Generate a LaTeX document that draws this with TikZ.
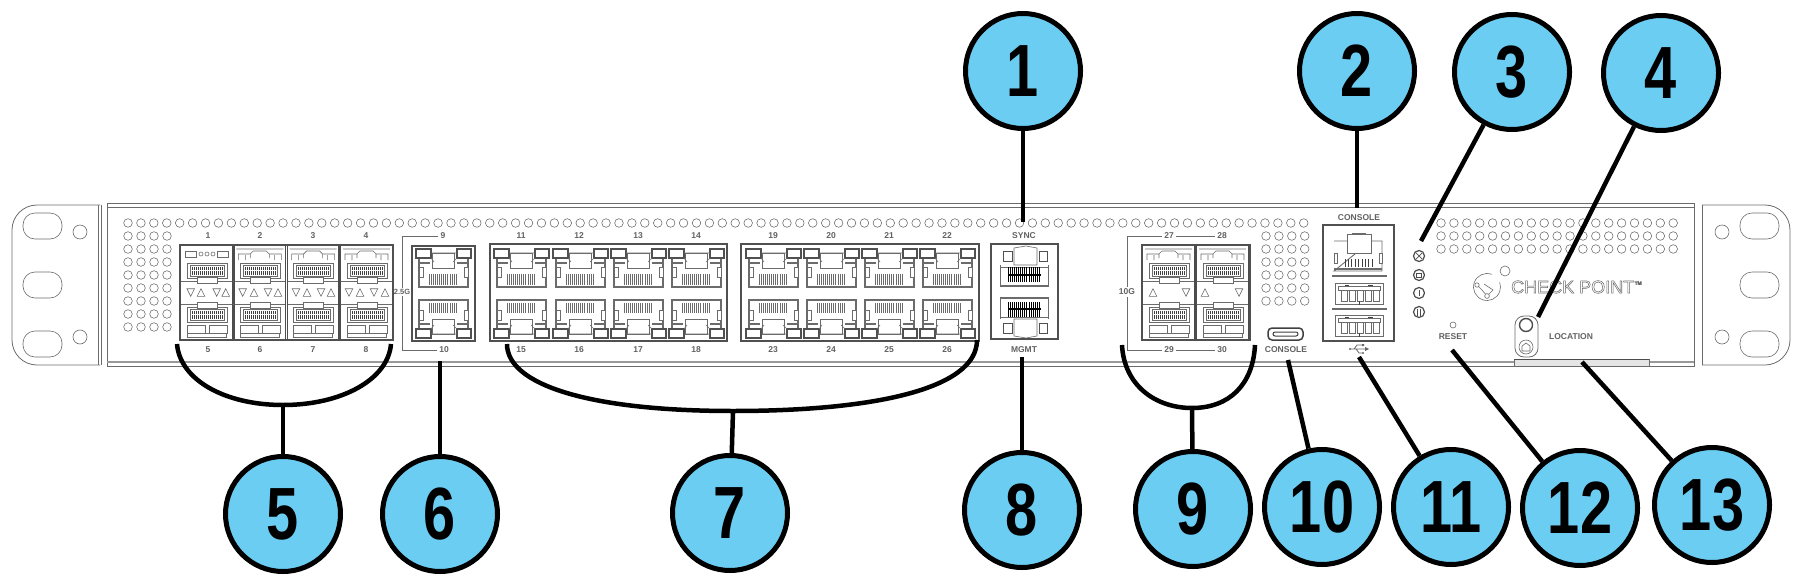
\documentclass[tikz,border=0pt]{standalone}
\usepackage{fontspec}
\setmainfont{Liberation Sans}
\newfontfamily\numfont{Liberation Sans}[FakeStretch=0.78]
\definecolor{calloutblue}{HTML}{6BCDF2}
\definecolor{devgray}{gray}{0.42}
\tikzset{
  callout/.style={circle, draw=black, line width=5pt, fill=calloutblue, minimum size=115pt, inner sep=0pt,
    font=\numfont\bfseries\fontsize{74}{74}\selectfont},
  leader/.style={draw=black, line width=4.5pt},
  devline/.style={draw=devgray, line width=.6pt},
  pinline/.style={draw=black!75, line width=1pt},
  cageline/.style={draw=devgray!75!black, line width=1.6pt},
  holeline/.style={draw=black!60, line width=.55pt},
  portlabel/.style={inner sep=2pt, text=black!62, font=\bfseries\fontsize{8.5}{9}\selectfont},
  % one half of a fibre cage, mirrored for the lower half
  sfpconn/.pic={
    \draw[devline, line width=.9pt] (7,18) rectangle (47,33);
    \draw[devline] (10,20) rectangle (44,31);
    \foreach \i in {0,...,15}
      \draw[pinline] (12+2*\i,21.5) -- ++(0,3.5) (12+2*\i,26) -- ++(0,3.5);
    \draw[devline, fill=white] (17,32) rectangle (37,38);
    \draw[devline, line width=.9pt] (0,36) -- (17,36) (37,36) -- (53,36);
  },
  sfpcell/.pic={
    \pic at (0,0) {sfpconn};
    \pic[yscale=-1] at (0,95) {sfpconn};
    \draw[devline] (7,80) rectangle (25,88) (29,80) rectangle (47,88) (7,88) rectangle (46,92);
    \draw[draw=black!70, line width=.8pt] (-.8,0) -- (-.8,95) (.8,0) -- (.8,95) (52.2,0) -- (52.2,95) (53.8,0) -- (53.8,95);
  },
  sfptop/.pic={
    \draw[devline] (3,4) -- (50,4) (5,15) -- (5,9) -- (17,9) -- (20,6) -- (33,6) -- (36,9) -- (48,9) -- (48,15)
      (12,15) -- (12,10) (41,15) -- (41,10) (17,9) -- (17,13) (36,9) -- (36,13);
  },
  rjport/.pic={
    \draw[devline, line width=1.1pt] (3,12) -- (3,41) -- (52,41) -- (52,12) (3,17) -- (14,17) (41,17) -- (52,17);
    \draw[devline, fill=white] (3,21) rectangle (7,31) (48,21) rectangle (52,31);
    \foreach \i in {0,...,13}
      \draw[devline, line width=1pt] (13+2.1*\i,28) -- (13+2.1*\i,38.5);
    \draw[devline, fill=white] (16,7) rectangle (38,22);
    \draw[cageline, line width=1.3pt, fill=white] (0,3) rectangle (15,12) (41,3) rectangle (55,12);
    \draw[devline] (15,7) -- (41,7) (15,12) -- (18,16) (41,12) -- (37,16);
  },
  syncport/.pic={
    \draw[devline, line width=2pt] (5.5,40) -- (53,40);
    \draw[devline, line width=.9pt] (5.5,19) -- (5.5,41) (53,19) -- (53,41) (5.5,21) -- (53,21);
    \foreach \i in {0,...,15}
      \draw[draw=black, line width=1pt] (13+2.1*\i,21) -- (13+2.1*\i,36);
    \draw[draw=black, line width=1.4pt] (13,29) -- (46,29);
    \draw[devline, fill=white] (19,2) -- (31,0) -- (42,2) -- (42,19) -- (19,19) -- cycle;
    \draw[cageline, line width=1pt] (8,5) rectangle (17,15) (44,5) rectangle (52,15);
  },
  usbport/.pic={
    \draw[devline, line width=.9pt] (0,0) -- (48,0) -- (48,21) -- (0,21) -- cycle;
    \draw[devline] (3,3) rectangle (45,7);
    \foreach \x in {6,14,22,30,38}
      \draw[devline] (\x,7) -- (\x,18) -- (\x+6,18) -- (\x+6,7);
    \draw[pinline] (10,2) -- (14,2) (33,2) -- (38,2) (24,18) -- (24,22);
  }
}
\begin{document}
\begin{tikzpicture}[x=1pt,y=-1pt]
  \useasboundingbox (0,0) rectangle (1794,578);
  % Ears and front panel
  \draw[devline, line width=.8pt, rounded corners=25pt] (100,205) -- (12,205) -- (12,365) -- (100,365);
  \draw[devline, line width=.8pt] (98,205) -- (98,365) (101,205) -- (101,365);
  \draw[devline, line width=.8pt, rounded corners=25pt] (1702,205) -- (1790,205) -- (1790,365) -- (1702,365);
  \draw[devline, line width=.8pt] (1702,205) -- (1702,365);
  \draw[devline, line width=.8pt] (107,203) rectangle (1694,366);
  \draw[devline, line width=.6pt] (107,207) -- (1694,207);
  \draw[draw=black!40, line width=1.5pt] (107,362) -- (1694,362);
  \foreach \y/\h in {213/26, 272/26, 331/26} {
    \draw[devline, rounded corners=12pt] (23,\y) rectangle (62,\y+\h);
    \draw[devline, rounded corners=12pt] (1740,\y) rectangle (1779,\y+\h);
  }
  \foreach \y in {232, 337} {
    \draw[devline] (80,\y) circle (7pt);
    \draw[devline] (1722,\y) circle (7pt);
  }
  % Vent holes
  \foreach \i in {0,...,91}
    \draw[holeline] (128+12.92*\i,223) circle (4.3pt);
  \foreach \i in {0,...,3}
    \foreach \j in {1,...,8}
      \draw[holeline] (128+13*\i,223+13*\j) circle (4.3pt);
  \foreach \i in {0,...,3}
    \foreach \j in {1,...,6}
      \draw[holeline] (1266+12.9*\i,223+13*\j) circle (4.3pt);
  \foreach \i in {0,...,18}
    \foreach \j in {0,1,2}
      \draw[holeline] (1441+12.9*\i,223+13*\j) circle (4.3pt);
  % Fibre ports 1-8
  \foreach \x in {180,233.3,286.6,340}
    \pic at (\x,245) {sfpcell};
  \foreach \x in {233.3,286.6,340}
    \pic at (\x,245) {sfptop};
  \draw[devline] (185,251) rectangle (196,257) (217,251) rectangle (228,257);
  \draw[devline] (201,254) circle (2pt) (207,254) circle (2pt) (213,254) circle (2pt);
  \draw[cageline] (180,245) rectangle (393,340);
  \foreach \x/\t in {190.7/1,201/-1,216.7/1,225.7/-1,242.7/1,254/-1,268/1,278/-1,
      296/1,307/-1,321/1,331/-1,349/1,360/-1,374/1,385/-1,1153/-1,1186/1,1205/-1,1239/1}
    \draw[devline] (\x-3.8,292.5-3.8*\t) -- (\x+3.8,292.5-3.8*\t) -- (\x,292.5+3.8*\t) -- cycle;
  % Copper ports
  \draw[cageline] (412,246) rectangle (475,341);
  \pic at (416,246) {rjport};
  \pic[yscale=-1] at (416,341) {rjport};
  \draw[cageline] (490,244) rectangle (727,341);
  \draw[cageline] (741,244) rectangle (979,341);
  \foreach \x in {494,553,611,669,746,804,862,920} {
    \pic at (\x,246) {rjport};
    \pic[yscale=-1] at (\x,341) {rjport};
  }
  % Sync and management ports
  \draw[cageline] (991,244) rectangle (1058,339);
  \pic at (995,246) {syncport};
  \pic[yscale=-1] at (995,338) {syncport};
  % Ports 27-30
  \foreach \x in {1142,1196} {
    \pic at (\x,245) {sfpcell};
    \pic at (\x,245) {sfptop};
  }
  \draw[cageline] (1142,245) rectangle (1250,340);
  % USB-C console
  \draw[draw=black!75, line width=1.5pt, rounded corners=4pt] (1268,328) rectangle (1303,340);
  \draw[pinline, rounded corners=2pt] (1273,332) rectangle (1298,336);
  % Console and USB block
  \draw[cageline] (1323,225) rectangle (1394,341);
  \draw[devline, line width=.9pt] (1334,241) -- (1347,241) (1371,241) -- (1382,241) -- (1382,271) -- (1334,271) -- cycle;
  \draw[devline, line width=2pt] (1334,269) -- (1382,269);
  \draw[devline, fill=white] (1347,234) rectangle (1371,253);
  \draw[devline] (1352,233) -- (1366,233);
  \draw[devline, fill=white] (1334,253) rectangle (1337,263) (1379,253) rectangle (1382,263);
  \foreach \i in {0,...,8}
    \draw[pinline] (1345+3.4*\i,259) -- ++(0,8);
  \draw[devline, line width=1.2pt] (1332,276) -- (1387,276) (1332,309) -- (1387,309);
  \pic at (1335,283) {usbport};
  \pic at (1335,315) {usbport};
  % USB mark
  \draw[draw=black!60, line width=.8pt] (1350,349) -- (1366,349) (1354,349) -- (1357,345) -- (1362,345) (1356,349) -- (1359,353) -- (1362,353);
  \fill[black!60] (1369,349) -- (1365,347) -- (1365,351) -- cycle (1362,344) rectangle (1364,346) (1363,353) circle (1.2pt) (1350,349) circle (1.2pt);
  % Status lights
  \foreach \y in {256,275,293,312}
    \draw[draw=black!70, line width=1.2pt] (1419,\y) circle (5.5pt);
  \draw[draw=black!70, line width=.7pt] (1416,253) -- (1422,259) (1416,259) -- (1422,253);
  \draw[draw=black!70, line width=.7pt] (1416.5,273) rectangle (1421.5,277.5);
  \draw[draw=black!70, line width=.8pt] (1419,290) -- (1419,296);
  \draw[draw=black!70, line width=.8pt] (1417.5,308.5) -- (1417.5,315.5) (1420.5,308.5) -- (1420.5,315.5);
  % Logo
  \draw[devline] (1491.6,274.3) arc (70:380:13.5pt);
  \draw[devline] (1505,271) circle (5pt);
  \draw[devline] (1477,285) -- (1482,290) -- (1487,296) -- (1493,290) -- (1484,284);
  \draw[devline, fill=white] (1477,285) circle (2.2pt) (1487,296) circle (2.4pt);
  \node[inner sep=0pt, anchor=west, font=\fontsize{18}{18}\selectfont] (logotext) at (1511,287)
    {\special{pdf:code q 1 Tr 0.5 w 0.4 G}CHECK POINT{\fontsize{8}{8}\selectfont\raisebox{6pt}{™}}\special{pdf:code Q}};
  % Reset and location
  \draw[devline] (1453,325) circle (3pt);
  \draw[devline, line width=.8pt, rounded corners=9pt] (1515,316) rectangle (1538,357);
  \draw[draw=black!70, line width=1.4pt, fill=white] (1526,325) circle (6.5pt);
  \draw[devline, fill=white] (1526,347) circle (7pt);
  \draw[devline] (1522,351) -- (1522,346) -- (1526,343) -- (1530,346) -- (1530,351) -- cycle;
  \draw[devline, fill=black!10] (1514,359) rectangle (1649,366);
  \draw[draw=black!70, line width=.9pt] (1514,359) -- (1649,359);
  % Labels
  \foreach \x/\lab in {208/1,260/2,313/3,366/4,443/9,521/11,579/12,638/13,696/14,773/19,831/20,889/21,947/22,1169/27,1222/28}
    \node[portlabel] (top\lab) at (\x,236) {\lab};
  \foreach \x/\lab in {208/5,260/6,313/7,366/8,444/10,521/15,579/16,638/17,696/18,773/23,831/24,889/25,947/26,1169/29,1222/30}
    \node[portlabel] (bot\lab) at (\x,350) {\lab};
  \node[portlabel] (sync) at (1024,236) {SYNC};
  \node[portlabel] (mgmt) at (1024,350) {MGMT};
  \node[portlabel] (consoleb) at (1286,350) {CONSOLE};
  \node[portlabel] (consolea) at (1359,218) {CONSOLE};
  \node[portlabel] (reset) at (1453,337) {RESET};
  \node[portlabel] (location) at (1571,337) {LOCATION};
  \node[portlabel, inner sep=1pt, font=\bfseries\fontsize{7.5}{9}\selectfont] (speeda) at (402,292) {2.5G};
  \node[portlabel] (speedb) at (1127,292) {10G};
  \draw[devline] (top9) -| (speeda);
  \draw[devline] (bot10) -| (speeda);
  \draw[devline] (top27) -| (speedb);
  \draw[devline] (bot29) -| (speedb);
  \draw[devline] (top27) -- (top28);
  \draw[devline] (bot29) -- (bot30);
  % Callouts
  \node[callout] (c1) at (1023,71) {1};
  \node[callout] (c2) at (1357,71) {2};
  \node[callout] (c3) at (1512,72) {3};
  \node[callout] (c4) at (1661,73) {4};
  \node[callout] (c5) at (283,514) {5};
  \node[callout] (c6) at (440,514) {6};
  \node[callout] (c7) at (730,513) {7};
  \node[callout] (c8) at (1022,510) {8};
  \node[callout] (c9) at (1193,509) {9};
  \node[callout] (c10) at (1322,507) {10};
  \node[callout] (c11) at (1451,507) {11};
  \node[callout] (c12) at (1580,508) {12};
  \node[callout] (c13) at (1712,505) {13};
  % Leader ends on the device
  \coordinate (p1) at (1023,222);
  \coordinate (p2) at (1357,208);
  \coordinate (p3) at (1421,241);
  \coordinate (p4) at (1538,317);
  \coordinate (p5) at (283,405);
  \coordinate (p6) at (440,361);
  \coordinate (p7) at (733,411);
  \coordinate (p8) at (1022,357);
  \coordinate (p9) at (1192,408);
  \coordinate (p10) at (1288,360);
  \coordinate (p11) at (1359,357);
  \coordinate (p12) at (1452,350);
  \coordinate (p13) at (1582,362);
  \foreach \n in {1,...,13}
    \draw[leader] (c\n) -- (p\n);
  % Brackets under the port groups
  \draw[leader] (177,344) .. controls (180,380) and (225,405) .. (p5) .. controls (341,405) and (388,380) .. (391,344);
  \draw[leader] (507,344) .. controls (507,385) and (590,411) .. (p7) .. controls (870,411) and (977,390) .. (977,340);
  \draw[leader] (1122,345) .. controls (1124,385) and (1155,408) .. (p9) .. controls (1229,408) and (1253,385) .. (1255,345);
\end{tikzpicture}
\end{document}
